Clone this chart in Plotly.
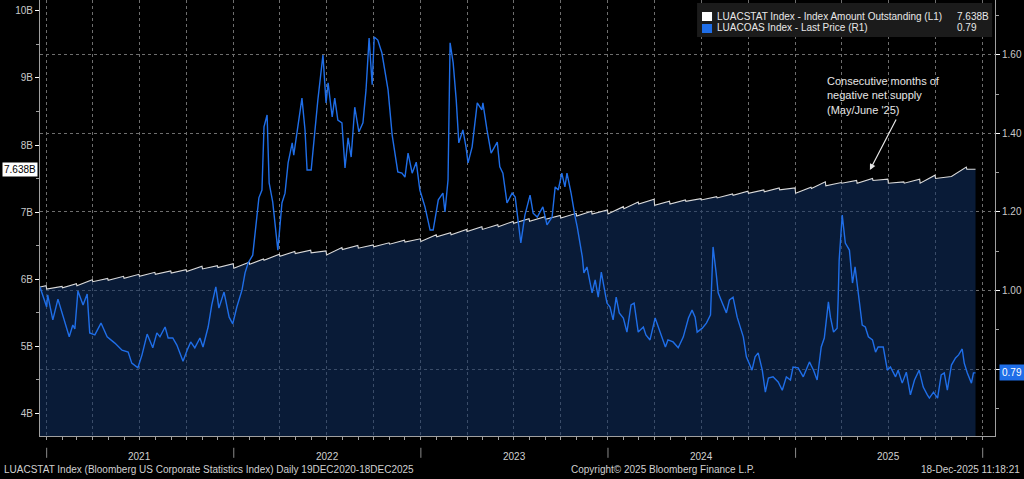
import pandas as pd
import plotly.graph_objects as go

# LUACSTAT Index - Index Amount Outstanding (left axis, in B)
amt_dec2020 = [5.88, 5.90]          # 19-Dec-2020 and 31-Dec-2020
amt_last_day = "2025-12-18"
# first and last value of every month, Jan-2021 .. Dec-2025
amt_open = [
    5.85, 5.87, 5.90, 5.96, 5.98, 6.01, 6.04, 6.07, 6.09, 6.11, 6.15, 6.17,
    6.16, 6.22, 6.28, 6.34, 6.38, 6.39, 6.36, 6.44, 6.46, 6.48, 6.52, 6.55,
    6.56, 6.63, 6.66, 6.71, 6.74, 6.78, 6.83, 6.86, 6.89, 6.91, 6.94, 6.97,
    6.97, 7.05, 7.12, 7.10, 7.12, 7.16, 7.18, 7.21, 7.25, 7.28, 7.30, 7.33,
    7.28, 7.35, 7.39, 7.43, 7.43, 7.47, 7.43, 7.43, 7.43, 7.50, 7.53, 7.64,
]
amt_close = [
    5.89, 5.93, 5.99, 6.01, 6.04, 6.07, 6.10, 6.12, 6.14, 6.19, 6.20, 6.23,
    6.25, 6.30, 6.37, 6.41, 6.43, 6.42, 6.47, 6.50, 6.51, 6.54, 6.58, 6.60,
    6.66, 6.69, 6.74, 6.78, 6.81, 6.86, 6.90, 6.93, 6.95, 6.98, 7.01, 7.03,
    7.08, 7.15, 7.19, 7.16, 7.18, 7.20, 7.23, 7.27, 7.31, 7.33, 7.36, 7.36,
    7.37, 7.45, 7.44, 7.47, 7.50, 7.49, 7.45, 7.49, 7.55, 7.53, 7.67, 7.638,
]

# LUACOAS Index - Last Price (right axis)
oas_dates = [
    "2020-12-19", "2020-12-24", "2021-01-01", "2021-01-03", "2021-01-13", "2021-01-23",
    "2021-02-06", "2021-02-14", "2021-02-21", "2021-02-25", "2021-03-03", "2021-03-13",
    "2021-03-21", "2021-03-26", "2021-04-05", "2021-04-17", "2021-04-29", "2021-05-14",
    "2021-05-28", "2021-06-09", "2021-06-16", "2021-06-28", "2021-07-06", "2021-07-16",
    "2021-07-27", "2021-08-04", "2021-08-10", "2021-08-20", "2021-08-26", "2021-09-04",
    "2021-09-12", "2021-09-24", "2021-10-02", "2021-10-09", "2021-10-17", "2021-10-27",
    "2021-11-02", "2021-11-12", "2021-11-19", "2021-11-27", "2021-12-03", "2021-12-13",
    "2021-12-23", "2021-12-30", "2022-01-07", "2022-01-17", "2022-01-23", "2022-01-29",
    "2022-02-07", "2022-02-13", "2022-02-19", "2022-02-25", "2022-03-01", "2022-03-07",
    "2022-03-11", "2022-03-18", "2022-03-22", "2022-03-28", "2022-04-05", "2022-04-11",
    "2022-04-17", "2022-04-25", "2022-04-28", "2022-05-04", "2022-05-14", "2022-05-20",
    "2022-05-24", "2022-06-01", "2022-06-08", "2022-06-14", "2022-06-24", "2022-06-30",
    "2022-07-04", "2022-07-12", "2022-07-17", "2022-07-23", "2022-07-31", "2022-08-06",
    "2022-08-12", "2022-08-18", "2022-08-25", "2022-09-02", "2022-09-10", "2022-09-16",
    "2022-09-22", "2022-09-26", "2022-09-28", "2022-10-02", "2022-10-09", "2022-10-17",
    "2022-10-23", "2022-10-29", "2022-11-06", "2022-11-12", "2022-11-17", "2022-11-25",
    "2022-12-01", "2022-12-07", "2022-12-15", "2022-12-23", "2022-12-30", "2023-01-09",
    "2023-01-19", "2023-01-25", "2023-02-04", "2023-02-13", "2023-02-17", "2023-02-23",
    "2023-02-27", "2023-03-05", "2023-03-11", "2023-03-16", "2023-03-24", "2023-03-30",
    "2023-04-03", "2023-04-11", "2023-04-21", "2023-04-30", "2023-05-02", "2023-05-10",
    "2023-05-18", "2023-05-30", "2023-06-04", "2023-06-10", "2023-06-18", "2023-06-28",
    "2023-07-04", "2023-07-15", "2023-07-23", "2023-08-02", "2023-08-08", "2023-08-16",
    "2023-08-27", "2023-09-04", "2023-09-14", "2023-09-20", "2023-09-26", "2023-10-03",
    "2023-10-09", "2023-10-13", "2023-10-21", "2023-10-29", "2023-11-02", "2023-11-12",
    "2023-11-15", "2023-11-21", "2023-12-01", "2023-12-07", "2023-12-13", "2023-12-19",
    "2023-12-23", "2023-12-30", "2024-01-05", "2024-01-11", "2024-01-17", "2024-01-23",
    "2024-01-31", "2024-02-07", "2024-02-15", "2024-02-21", "2024-02-29", "2024-03-10",
    "2024-03-15", "2024-03-23", "2024-04-02", "2024-04-12", "2024-04-22", "2024-04-27",
    "2024-05-07", "2024-05-17", "2024-05-27", "2024-06-06", "2024-06-13", "2024-06-19",
    "2024-06-23", "2024-07-03", "2024-07-11", "2024-07-19", "2024-07-22", "2024-07-24",
    "2024-07-30", "2024-08-03", "2024-08-11", "2024-08-19", "2024-08-25", "2024-09-01",
    "2024-09-09", "2024-09-17", "2024-09-21", "2024-09-27", "2024-10-08", "2024-10-14",
    "2024-10-20", "2024-10-28", "2024-11-03", "2024-11-09", "2024-11-18", "2024-11-28",
    "2024-12-06", "2024-12-14", "2024-12-22", "2024-12-27", "2025-01-06", "2025-01-16",
    "2025-01-28", "2025-02-05", "2025-02-12", "2025-02-20", "2025-02-26", "2025-03-06",
    "2025-03-10", "2025-03-16", "2025-03-23", "2025-03-25", "2025-03-27", "2025-04-02",
    "2025-04-08", "2025-04-16", "2025-04-22", "2025-04-27", "2025-05-03", "2025-05-11",
    "2025-05-17", "2025-05-23", "2025-05-31", "2025-06-06", "2025-06-11", "2025-06-21",
    "2025-06-29", "2025-07-05", "2025-07-15", "2025-07-20", "2025-07-28", "2025-08-05",
    "2025-08-13", "2025-08-21", "2025-08-30", "2025-09-07", "2025-09-15", "2025-09-19",
    "2025-09-27", "2025-10-05", "2025-10-12", "2025-10-18", "2025-10-24", "2025-11-01",
    "2025-11-09", "2025-11-15", "2025-11-22", "2025-11-26", "2025-12-02", "2025-12-10",
    "2025-12-14", "2025-12-18",
]
oas_values = [
    1.009, 0.989, 0.958, 0.989, 0.925, 0.978,
    0.917, 0.882, 0.912, 0.902, 0.999, 0.963,
    0.991, 0.892, 0.887, 0.917, 0.882, 0.866,
    0.848, 0.843, 0.815, 0.803, 0.836, 0.889,
    0.854, 0.892, 0.882, 0.907, 0.879, 0.879,
    0.861, 0.820, 0.848, 0.869, 0.854, 0.879,
    0.856, 0.907, 0.963, 1.009, 0.955, 0.996,
    0.932, 0.915, 0.958, 1.001, 1.045, 1.070,
    1.090, 1.172, 1.236, 1.256, 1.417, 1.447,
    1.274, 1.225, 1.172, 1.103, 1.223, 1.248,
    1.325, 1.376, 1.345, 1.401, 1.490, 1.409,
    1.307, 1.307, 1.409, 1.485, 1.600, 1.478,
    1.529, 1.442, 1.490, 1.434, 1.427, 1.312,
    1.389, 1.340, 1.467, 1.404, 1.427, 1.511,
    1.643, 1.544, 1.524, 1.646, 1.638, 1.605,
    1.554, 1.511, 1.396, 1.340, 1.302, 1.299,
    1.289, 1.350, 1.299, 1.327, 1.256, 1.213,
    1.154, 1.154, 1.231, 1.248, 1.200, 1.282,
    1.631, 1.580, 1.485, 1.376, 1.409, 1.366,
    1.325, 1.366, 1.478, 1.460, 1.478, 1.409,
    1.350, 1.378, 1.315, 1.299, 1.223, 1.248,
    1.238, 1.121, 1.192, 1.243, 1.197, 1.187,
    1.213, 1.167, 1.187, 1.264, 1.256, 1.299,
    1.264, 1.299, 1.248, 1.187, 1.162, 1.085,
    1.045, 1.060, 0.994, 1.027, 0.983, 1.047,
    1.019, 0.968, 0.958, 0.925, 0.983, 0.943,
    0.930, 0.894, 0.963, 0.968, 0.894, 0.907,
    0.887, 0.874, 0.930, 0.892, 0.856, 0.874,
    0.869, 0.854, 0.882, 0.930, 0.950, 0.932,
    0.894, 0.904, 0.917, 0.938, 1.039, 1.111,
    1.045, 0.994, 0.968, 0.943, 0.976, 0.983,
    0.932, 0.894, 0.882, 0.831, 0.797, 0.831,
    0.841, 0.797, 0.741, 0.777, 0.780, 0.767,
    0.746, 0.780, 0.772, 0.805, 0.803, 0.780,
    0.818, 0.797, 0.772, 0.856, 0.879, 0.971,
    0.932, 0.894, 0.904, 0.976, 1.078, 1.192,
    1.121, 1.103, 1.019, 1.060, 0.994, 0.912,
    0.907, 0.882, 0.874, 0.843, 0.856, 0.856,
    0.797, 0.805, 0.780, 0.797, 0.764, 0.792,
    0.734, 0.772, 0.797, 0.754, 0.734, 0.726,
    0.741, 0.726, 0.785, 0.790, 0.746, 0.810,
    0.828, 0.836, 0.851, 0.815, 0.790, 0.764,
    0.790, 0.790,
]

year_labels = ["2021", "2022", "2023", "2024", "2025"]
y2_ticks = [0.80, 1.00, 1.20, 1.40, 1.60]
y2_text = ["", "1.00", "1.20", "1.40", "1.60"]

amt_name = "LUACSTAT Index - Index Amount Outstanding (L1)"
oas_name = "LUACOAS Index - Last Price (R1)"
amt_last = "7.638B"
oas_last = "0.79"

WHITE = "#d9d9d9"
BLUE = "#1f6ee8"
GRID = "#6e6e6e"
AXIS = "#a0a0a0"
FONT = "Liberation Sans"

# build the amount series: rises within each month, resets on the 1st
amt_dates = [pd.Timestamp("2020-12-19"), pd.Timestamp("2020-12-31")]
amt_values = list(amt_dec2020)
month_starts = pd.date_range("2021-01-01", "2025-12-01", freq="MS")
for start, v_open, v_close in zip(month_starts, amt_open, amt_close):
    end = min(start + pd.offsets.MonthEnd(0), pd.Timestamp(amt_last_day))
    amt_dates += [start, end]
    amt_values += [v_open, v_close]

fig = go.Figure()

fig.add_trace(go.Scatter(
    x=amt_dates, y=amt_values, name=amt_name, mode="lines",
    line=dict(color=WHITE, width=1.1),
    fill="tozeroy", fillcolor="rgba(16,50,100,0.55)",
    yaxis="y",
))
fig.add_trace(go.Scatter(
    x=pd.to_datetime(oas_dates), y=oas_values, name=oas_name, mode="lines",
    line=dict(color=BLUE, width=1.4),
    yaxis="y2",
))

fig.update_layout(
    width=1024, height=479,
    margin=dict(l=40, r=29, t=0, b=43, autoexpand=False),
    paper_bgcolor="black", plot_bgcolor="black",
    showlegend=False,
    font=dict(family=FONT, size=10, color="#cfcfcf"),
    xaxis=dict(
        type="date", range=["2020-12-19", "2026-01-25"],
        tick0="2021-01-01", dtick="M3",
        ticks="outside", ticklen=3, tickcolor=AXIS,
        showticklabels=False, automargin=False,
        showgrid=True, gridcolor=GRID, griddash="dot", gridwidth=1,
        showline=True, linecolor=AXIS, linewidth=1, zeroline=False,
        minor=dict(tick0="2021-01-01", dtick="M1", ticks="outside",
                   ticklen=3, tickcolor=AXIS, showgrid=False),
    ),
    yaxis=dict(
        range=[3.657, 10.164], tick0=0, dtick=1, ticksuffix="B",
        ticks="outside", ticklen=4, tickcolor="white", automargin=False,
        showgrid=False, showline=True, linecolor=AXIS, zeroline=False,
        tickfont=dict(size=10, color="#c8c8c8"),
        minor=dict(dtick=0.5, ticks="outside", ticklen=3, tickcolor=AXIS),
    ),
    yaxis2=dict(
        overlaying="y", side="right", range=[0.6293, 1.7401],
        tickvals=y2_ticks, ticktext=y2_text, automargin=False,
        ticks="outside", ticklen=4, tickcolor="white",
        showgrid=True, gridcolor=GRID, griddash="dot", gridwidth=1,
        showline=True, linecolor=AXIS, zeroline=False,
        tickfont=dict(size=10, color="#c8c8c8"),
        minor=dict(dtick=0.1, ticks="outside", ticklen=3, tickcolor=AXIS),
    ),
)

shapes = []
annotations = []

# year separators and year labels under the axis
for yr in year_labels + ["2026"]:
    shapes.append(dict(type="line", xref="x", yref="paper",
                       x0=f"{yr}-01-01", x1=f"{yr}-01-01", y0=-0.027, y1=-0.05,
                       line=dict(color="#8a8a8a", width=1)))
for yr in year_labels:
    annotations.append(dict(text=yr, xref="x", yref="paper", x=f"{yr}-07-02",
                            y=-0.048, showarrow=False, yanchor="middle",
                            font=dict(size=10, color="#d0d0d0")))

# legend box
shapes.append(dict(type="rect", xref="paper", yref="paper",
                   x0=0.688, x1=0.997, y0=0.915, y1=0.993,
                   fillcolor="#1b1b1b", line=dict(width=0), layer="above"))
shapes.append(dict(type="rect", xref="paper", yref="paper",
                   x0=0.6932, x1=0.7037, y0=0.9518, y1=0.9725,
                   fillcolor="white", line=dict(width=0), layer="above"))
shapes.append(dict(type="rect", xref="paper", yref="paper",
                   x0=0.6932, x1=0.7037, y0=0.9243, y1=0.945,
                   fillcolor=BLUE, line=dict(width=0), layer="above"))
for name, val, yy in [(amt_name, amt_last, 0.9633), (oas_name, oas_last, 0.9358)]:
    annotations.append(dict(text=name, xref="paper", yref="paper", x=0.7068, y=yy,
                            xanchor="left", yanchor="middle", showarrow=False,
                            font=dict(size=10, color="#e8e8e8")))
    annotations.append(dict(text=val, xref="paper", yref="paper", x=0.9581, y=yy,
                            xanchor="left", yanchor="middle", showarrow=False,
                            font=dict(size=10, color="#e8e8e8")))

# comment on the supply
annotations.append(dict(
    text="Consecutive months of<br>negative net supply<br>(May/June '25)",
    xref="paper", yref="paper", x=0.822, y=0.832, xanchor="left", yanchor="top",
    align="left", showarrow=False, font=dict(size=11, color="#e6e6e6"),
))
annotations.append(dict(
    text="", xref="paper", yref="paper", x=0.869, y=0.610,
    ax=27, ay=-52, showarrow=True, arrowhead=2, arrowsize=1,
    arrowwidth=1.2, arrowcolor="#e6e6e6", standoff=0,
))

# last value tags on both axes
annotations.append(dict(text=amt_last, xref="paper", yref="y", x=0, y=7.638,
                        xanchor="right", yanchor="middle", xshift=-2,
                        showarrow=False, bgcolor="white", borderpad=1,
                        font=dict(size=10, color="black")))
annotations.append(dict(text=oas_last, xref="paper", yref="y2", x=1, y=0.79,
                        xanchor="left", yanchor="middle", xshift=4,
                        showarrow=False, bgcolor=BLUE, borderpad=2,
                        font=dict(size=10, color="white")))

# footer
annotations.append(dict(text="LUACSTAT Index (Bloomberg US Corporate Statistics Index) Daily 19DEC2020-18DEC2025",
                        xref="paper", yref="paper", x=-0.0398, y=-0.0757,
                        xanchor="left", yanchor="middle", showarrow=False,
                        font=dict(size=10, color="#d0d0d0")))
annotations.append(dict(text="Copyright\u00a9 2025 Bloomberg Finance L.P.",
                        xref="paper", yref="paper", x=0.652, y=-0.0757,
                        xanchor="center", yanchor="middle", showarrow=False,
                        font=dict(size=10, color="#d0d0d0")))
annotations.append(dict(text="18-Dec-2025 11:18:21",
                        xref="paper", yref="paper", x=1.028, y=-0.0757,
                        xanchor="right", yanchor="middle", showarrow=False,
                        font=dict(size=10, color="#d0d0d0")))

fig.update_layout(shapes=shapes, annotations=annotations)

# the page's default body margin would shift the chart by 8px
fig.write_html("out.html", config={"displayModeBar": False},
               post_script="document.body.style.margin = '0';")
